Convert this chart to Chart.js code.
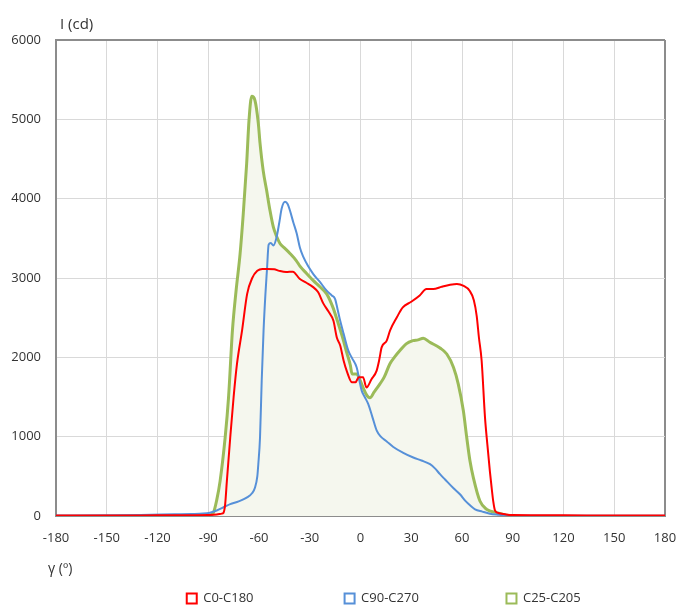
<!DOCTYPE html>
<html>
<head>
<meta charset="utf-8">
<script src="https://cdn.jsdelivr.net/npm/chart.js@4.4.1/dist/chart.umd.min.js"></script>
<style>
  html, body { margin: 0; padding: 0; background: #fff; }
  #wrap { width: 678px; height: 605px; }
</style>
</head>
<body>
<div id="wrap"><canvas id="chart" width="678" height="605"></canvas></div>
<script>
// series names
const seriesNames = ['C0-C180', 'C90-C270', 'C25-C205'];

// C0-C180 (red)
const redAngles = [-180, -150, -120, -100, -90, -85, -82, -81, -80, -79, -77, -75, -73, -70, -67, -64, -61, -58, -55, -51, -48, -44, -40,
  -36, -32, -28, -25, -22, -19, -16, -14, -12, -10, -8, -5, -3, -1, 1.5, 3.5, 6.5, 9.5, 11, 12.5, 15.5, 17.5, 21.5, 25,
  30, 35, 39, 43, 48, 53, 57, 61, 64.5, 67, 68.7, 70, 71.6, 73.6, 75, 76.5, 77.5, 78.5, 79.5, 82, 86, 90, 120, 150, 180];
const redValues = [5, 5, 8, 10, 12, 18, 30, 40, 150, 440, 990, 1500, 1920, 2340, 2800, 3000, 3090, 3115, 3115, 3110, 3090, 3075, 3080,
  2990, 2940, 2885, 2820, 2680, 2580, 2460, 2250, 2150, 1960, 1820, 1685, 1685, 1750, 1750, 1620, 1725, 1830, 1960, 2125, 2210, 2340, 2505, 2630,
  2700, 2780, 2860, 2860, 2890, 2915, 2925, 2900, 2840, 2720, 2520, 2250, 1960, 1240, 900, 560, 360, 180, 70, 35, 20, 12, 8, 5, 5];

// C90-C270 (blue)
const blueAngles = [-180, -150, -130, -110, -100, -93, -89, -85, -80, -77, -72, -67.3, -64, -62.4, -61, -60.4, -59.4, -58.4, -57.3, -56.2,
  -55.3, -54.3, -53, -51.5, -49.6, -48, -46.6, -44.6, -43, -41.7, -39.7, -37.7, -35.8, -33.8, -31, -27.9, -24, -20, -17, -15, -13.5,
  -12, -10, -7.2, -5, -2.3, 0.7, 2.5, 4.6, 7, 9.6, 12, 15.5, 19.4, 25, 31.2, 36, 41.1, 44, 47, 50, 55, 58.8, 62, 65, 67.7, 72, 76.5,
  82, 86.4, 90, 120, 150, 180];
const blueValues = [5, 8, 12, 21, 25, 30, 42, 70, 120, 150, 185, 231, 290, 357, 500, 655, 990, 1705, 2340, 2800,
  3100, 3420, 3440, 3410, 3515, 3700, 3875, 3960, 3930, 3850, 3700, 3560, 3380, 3265, 3150, 3050, 2950, 2840, 2780, 2735, 2600,
  2460, 2300, 2085, 1990, 1875, 1580, 1500, 1410, 1250, 1075, 1000, 940, 870, 800, 737, 700, 653, 600, 527, 460, 350, 274, 190, 130, 84, 55, 29,
  15, 5, 3, 3, 3, 3];

// C25-C205 (green, filled)
const greenAngles = [-90, -87, -85, -83, -80, -78, -75.7, -73.5, -71.2, -69.3, -67.3, -65.9, -64.3, -62.4, -60.4, -59.4, -57.5, -55.5,
  -53.5, -51.5, -49.5, -47.6, -45, -41.7, -38, -35.8, -32, -28, -24, -20, -16.3, -13.5, -11, -8, -6, -5, -2.3, 0, 1.5, 3.5, 5.6,
  8, 11.5, 14, 17.4, 20, 23.3, 27, 31, 34, 37.1, 41, 47, 51, 55, 57.8, 60.8, 62.8, 64.7, 66.7, 70.6, 74.6, 80.5, 85, 90];
const greenValues = [0, 40, 200, 440, 990, 1495, 2340, 2850, 3300, 3810, 4440, 4990, 5290, 5240, 4950, 4700, 4350, 4105,
  3850, 3640, 3520, 3435, 3380, 3310, 3220, 3150, 3060, 2970, 2890, 2800, 2630, 2450, 2280, 2050, 1900, 1790, 1790, 1700, 1620, 1530, 1490,
  1560, 1665, 1750, 1920, 2000, 2085, 2170, 2210, 2220, 2240, 2190, 2118, 2042, 1873, 1663, 1326, 989, 695, 484, 189, 84, 42, 15, 0];

// axis ticks
const xTicks = [-180, -150, -120, -90, -60, -30, 0, 30, 60, 90, 120, 150, 180];
const yTicks = [0, 1000, 2000, 3000, 4000, 5000, 6000];

const toPoints = (xs, ys) => xs.map((x, i) => ({ x: x, y: ys[i] }));

const edgeColor = '#8c8c8c';
const gridColor = '#d9d9d9';
const textColor = '#333333';
const fontFamily = '"Open Sans", "DejaVu Sans", sans-serif';

// trailing spaces give the legend items their spacing
const legendPad = [24, 23, 22];

const axisTitles = {
  id: 'axisTitles',
  afterDraw(chart) {
    const ctx = chart.ctx;
    ctx.save();
    ctx.fillStyle = textColor;
    ctx.textAlign = 'left';
    ctx.textBaseline = 'alphabetic';
    ctx.font = '15px ' + fontFamily;
    ctx.fillText('I (cd)', 60, 29);
    ctx.font = '14px ' + fontFamily;
    ctx.fillText('γ (º)', 48, 573);
    ctx.restore();
  }
};

new Chart(document.getElementById('chart'), {
  type: 'line',
  data: {
    datasets: [
      {
        label: seriesNames[0],
        data: toPoints(redAngles, redValues),
        borderColor: '#ff0000',
        backgroundColor: '#ff0000',
        borderWidth: 2,
        fill: false,
        order: 1
      },
      {
        label: seriesNames[1],
        data: toPoints(blueAngles, blueValues),
        borderColor: '#5690d8',
        backgroundColor: '#5690d8',
        borderWidth: 2,
        fill: false,
        order: 2
      },
      {
        label: seriesNames[2],
        data: toPoints(greenAngles, greenValues),
        borderColor: '#9bbb59',
        backgroundColor: '#f5f7ee',
        borderWidth: 3,
        fill: 'origin',
        order: 3
      }
    ]
  },
  options: {
    responsive: false,
    animation: false,
    elements: {
      point: { radius: 0 },
      line: { cubicInterpolationMode: 'monotone' }
    },
    layout: { padding: { top: 40, right: 13, bottom: -10, left: 0 } },
    scales: {
      x: {
        type: 'linear',
        min: -180,
        max: 180,
        afterBuildTicks: s => { s.ticks = xTicks.map(v => ({ value: v })); },
        afterFit: s => { s.height = 66; s.paddingRight = 0; s.paddingLeft = 0; },
        ticks: { color: textColor, font: { family: fontFamily, size: 13 }, padding: 14, maxRotation: 0 },
        grid: {
          drawTicks: false,
          color: c => (c.tick && c.tick.value === 180 ? edgeColor : gridColor),
          lineWidth: c => (c.tick && c.tick.value === 180 ? 2 : 1)
        },
        border: { color: edgeColor, width: 2 }
      },
      y: {
        min: 0,
        max: 6000,
        afterBuildTicks: s => { s.ticks = yTicks.map(v => ({ value: v })); },
        afterFit: s => { s.width = 56; },
        ticks: {
          color: textColor,
          font: { family: fontFamily, size: 13 },
          padding: 15,
          callback: v => String(v)
        },
        grid: {
          drawTicks: false,
          color: c => (c.tick && c.tick.value === 6000 ? edgeColor : gridColor),
          lineWidth: c => (c.tick && c.tick.value === 6000 ? 2 : 1)
        },
        border: { color: edgeColor, width: 2 }
      }
    },
    plugins: {
      filler: { drawTime: 'beforeDatasetsDraw' },
      tooltip: { enabled: false },
      legend: {
        position: 'bottom',
        align: 'end',
        labels: {
          boxWidth: 10,
          boxHeight: 10,
          padding: 10,
          color: textColor,
          font: { family: fontFamily, size: 13 },
          sort: (a, b) => a.datasetIndex - b.datasetIndex,
          generateLabels: chart => {
            const items = Chart.defaults.plugins.legend.labels.generateLabels(chart);
            return items.map(it => {
              const ds = chart.data.datasets[it.datasetIndex];
              it.text = it.text + ' '.repeat(legendPad[it.datasetIndex]);
              it.fillStyle = '#ffffff';
              it.strokeStyle = ds.borderColor;
              it.lineWidth = 2;
              return it;
            });
          }
        }
      }
    }
  },
  plugins: [axisTitles]
});
</script>
</body>
</html>
